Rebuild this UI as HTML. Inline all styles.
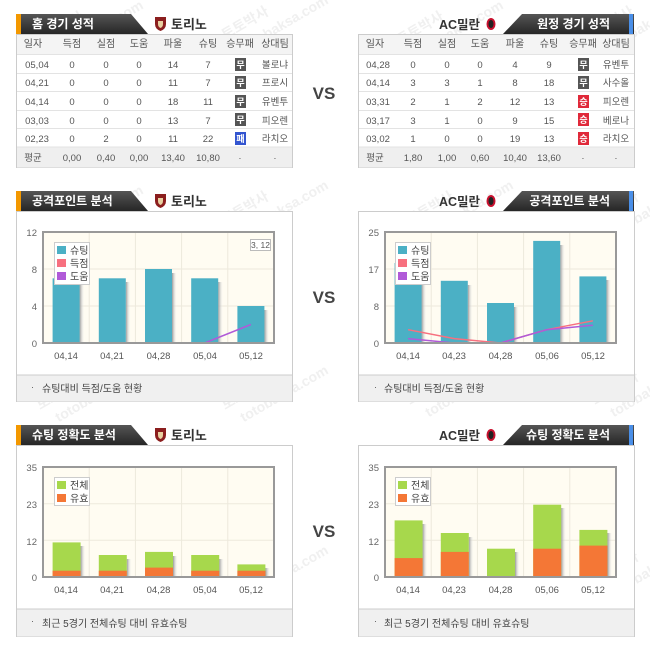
<!DOCTYPE html>
<html><head><meta charset="utf-8"><style>
html,body{margin:0;padding:0;background:#fff;}
svg{display:block;}
text{font-family:"Liberation Sans","Noto Sans CJK KR",sans-serif;}
</style></head><body>
<svg width="650" height="656" viewBox="0 0 650 656" xmlns="http://www.w3.org/2000/svg">
<defs>
<linearGradient id="tab" x1="0" y1="0" x2="0" y2="1"><stop offset="0" stop-color="#555"/><stop offset="1" stop-color="#262626"/></linearGradient>
<linearGradient id="sh" x1="0" y1="0" x2="1" y2="0"><stop offset="0" stop-color="#999"/><stop offset="1" stop-color="#fff" stop-opacity="0"/></linearGradient>
</defs>

<!-- watermarks -->
<g fill="#f0f0f0" font-size="14" font-weight="bold">
<g transform="translate(40,45) rotate(-30)"><text>토토박사</text><text x="10" y="20">totobaksa.com</text></g>
<g transform="translate(225,40) rotate(-30)"><text>토토박사</text><text x="10" y="20">totobaksa.com</text></g>
<g transform="translate(400,45) rotate(-30)"><text>토토박사</text><text x="10" y="20">totobaksa.com</text></g>
<g transform="translate(590,40) rotate(-30)"><text>토토박사</text><text x="10" y="20">totobaksa.com</text></g>
<g transform="translate(40,230) rotate(-30)"><text>토토박사</text><text x="10" y="20">totobaksa.com</text></g>
<g transform="translate(225,225) rotate(-30)"><text>토토박사</text><text x="10" y="20">totobaksa.com</text></g>
<g transform="translate(410,225) rotate(-30)"><text>토토박사</text><text x="10" y="20">totobaksa.com</text></g>
<g transform="translate(595,225) rotate(-30)"><text>토토박사</text><text x="10" y="20">totobaksa.com</text></g>
<g transform="translate(40,410) rotate(-30)"><text>토토박사</text><text x="10" y="20">totobaksa.com</text></g>
<g transform="translate(225,410) rotate(-30)"><text>토토박사</text><text x="10" y="20">totobaksa.com</text></g>
<g transform="translate(410,405) rotate(-30)"><text>토토박사</text><text x="10" y="20">totobaksa.com</text></g>
<g transform="translate(595,405) rotate(-30)"><text>토토박사</text><text x="10" y="20">totobaksa.com</text></g>
<g transform="translate(40,590) rotate(-30)"><text>토토박사</text><text x="10" y="20">totobaksa.com</text></g>
<g transform="translate(225,590) rotate(-30)"><text>토토박사</text><text x="10" y="20">totobaksa.com</text></g>
<g transform="translate(410,585) rotate(-30)"><text>토토박사</text><text x="10" y="20">totobaksa.com</text></g>
<g transform="translate(595,585) rotate(-30)"><text>토토박사</text><text x="10" y="20">totobaksa.com</text></g>
</g>

<!-- ============ TOP LEFT TABLE ============ -->
<polygon points="16,14 131,14 148,34 16,34" fill="url(#tab)"/>
<rect x="16" y="14" width="5" height="20" fill="#f39800"/>
<text x="32" y="28" font-size="12" font-weight="bold" fill="#fff">홈 경기 성적</text>
<path d="M155,17 h11 v7 q0,5 -5.5,7 q-5.5,-2 -5.5,-7z" fill="#8b1e1e"/>
<path d="M158,21 h5 v3 q0,3 -2.5,4 q-2.5,-1 -2.5,-4z" fill="#e8d0a0"/>
<text x="171" y="29" font-size="13" font-weight="bold" fill="#333">토리노</text>

<rect x="16.5" y="34.5" width="276" height="133" fill="#fff" stroke="#ccc"/>
<rect x="17" y="35" width="275" height="19" fill="#f4f4f4"/>
<rect x="17" y="147" width="275" height="20.5" fill="#efefef"/>
<g stroke="#e3e3e3"><line x1="17" y1="54.5" x2="292" y2="54.5"/><line x1="17" y1="73.5" x2="292" y2="73.5"/><line x1="17" y1="91.5" x2="292" y2="91.5"/><line x1="17" y1="110.5" x2="292" y2="110.5"/><line x1="17" y1="128.5" x2="292" y2="128.5"/><line x1="17" y1="147" x2="292" y2="147"/></g>
<g font-size="10" fill="#555" text-anchor="middle">
<text x="33" y="47">일자</text><text x="72" y="47">득점</text><text x="106" y="47">실점</text><text x="139" y="47">도움</text><text x="173" y="47">파울</text><text x="208" y="47">슈팅</text><text x="240" y="47">승무패</text><text x="275" y="47">상대팀</text>
</g>
<g font-size="9.5" fill="#555" text-anchor="middle">
<text x="37" y="68">05,04</text><text x="72" y="68">0</text><text x="106" y="68">0</text><text x="139" y="68">0</text><text x="173" y="68">14</text><text x="208" y="68">7</text><text x="275" y="68">볼로냐</text>
<text x="37" y="86">04,21</text><text x="72" y="86">0</text><text x="106" y="86">0</text><text x="139" y="86">0</text><text x="173" y="86">11</text><text x="208" y="86">7</text><text x="275" y="86">프로시</text>
<text x="37" y="105">04,14</text><text x="72" y="105">0</text><text x="106" y="105">0</text><text x="139" y="105">0</text><text x="173" y="105">18</text><text x="208" y="105">11</text><text x="275" y="105">유벤투</text>
<text x="37" y="124">03,03</text><text x="72" y="124">0</text><text x="106" y="124">0</text><text x="139" y="124">0</text><text x="173" y="124">13</text><text x="208" y="124">7</text><text x="275" y="124">피오렌</text>
<text x="37" y="142">02,23</text><text x="72" y="142">0</text><text x="106" y="142">2</text><text x="139" y="142">0</text><text x="173" y="142">11</text><text x="208" y="142">22</text><text x="275" y="142">라치오</text>
<text x="33" y="161">평균</text><text x="72" y="161">0,00</text><text x="106" y="161">0,40</text><text x="139" y="161">0,00</text><text x="173" y="161">13,40</text><text x="208" y="161">10,80</text><text x="240" y="161">·</text><text x="275" y="161">·</text>
</g>
<g font-size="9" fill="#fff" text-anchor="middle" font-weight="bold">
<rect x="235" y="58" width="11" height="13" fill="#555"/><text x="240.5" y="68">무</text>
<rect x="235" y="76" width="11" height="13" fill="#555"/><text x="240.5" y="86">무</text>
<rect x="235" y="95" width="11" height="13" fill="#555"/><text x="240.5" y="105">무</text>
<rect x="235" y="113" width="11" height="13" fill="#555"/><text x="240.5" y="123">무</text>
<rect x="235" y="132" width="11" height="13" fill="#3355d0"/><text x="240.5" y="142">패</text>
</g>

<!-- ============ TOP RIGHT TABLE ============ -->
<polygon points="522,14 634,14 634,34 503,34" fill="url(#tab)"/>
<rect x="629" y="14" width="4" height="20" fill="#4a8fe8"/>
<text x="610" y="28" font-size="12" font-weight="bold" fill="#fff" text-anchor="end">원정 경기 성적</text>
<text x="480" y="29" font-size="12.5" font-weight="bold" fill="#333" text-anchor="end">AC밀란</text>
<ellipse cx="491" cy="24" rx="4.5" ry="6" fill="#c8102e"/><ellipse cx="491" cy="24" rx="2.5" ry="4" fill="#222"/>

<rect x="358.5" y="34.5" width="276" height="133" fill="#fff" stroke="#ccc"/>
<rect x="359" y="35" width="275" height="19" fill="#f4f4f4"/>
<rect x="359" y="147" width="275" height="20.5" fill="#efefef"/>
<g stroke="#e3e3e3"><line x1="359" y1="54.5" x2="634" y2="54.5"/><line x1="359" y1="73.5" x2="634" y2="73.5"/><line x1="359" y1="91.5" x2="634" y2="91.5"/><line x1="359" y1="110.5" x2="634" y2="110.5"/><line x1="359" y1="128.5" x2="634" y2="128.5"/><line x1="359" y1="147" x2="634" y2="147"/></g>
<g font-size="10" fill="#555" text-anchor="middle">
<text x="375" y="47">일자</text><text x="413" y="47">득점</text><text x="447" y="47">실점</text><text x="480" y="47">도움</text><text x="515" y="47">파울</text><text x="549" y="47">슈팅</text><text x="583" y="47">승무패</text><text x="616" y="47">상대팀</text>
</g>
<g font-size="9.5" fill="#555" text-anchor="middle">
<text x="378" y="68">04,28</text><text x="413" y="68">0</text><text x="447" y="68">0</text><text x="480" y="68">0</text><text x="515" y="68">4</text><text x="549" y="68">9</text><text x="616" y="68">유벤투</text>
<text x="378" y="86">04,14</text><text x="413" y="86">3</text><text x="447" y="86">3</text><text x="480" y="86">1</text><text x="515" y="86">8</text><text x="549" y="86">18</text><text x="616" y="86">사수올</text>
<text x="378" y="105">03,31</text><text x="413" y="105">2</text><text x="447" y="105">1</text><text x="480" y="105">2</text><text x="515" y="105">12</text><text x="549" y="105">13</text><text x="616" y="105">피오렌</text>
<text x="378" y="124">03,17</text><text x="413" y="124">3</text><text x="447" y="124">1</text><text x="480" y="124">0</text><text x="515" y="124">9</text><text x="549" y="124">15</text><text x="616" y="124">베로나</text>
<text x="378" y="142">03,02</text><text x="413" y="142">1</text><text x="447" y="142">0</text><text x="480" y="142">0</text><text x="515" y="142">19</text><text x="549" y="142">13</text><text x="616" y="142">라치오</text>
<text x="375" y="161">평균</text><text x="413" y="161">1,80</text><text x="447" y="161">1,00</text><text x="480" y="161">0,60</text><text x="515" y="161">10,40</text><text x="549" y="161">13,60</text><text x="583" y="161">·</text><text x="616" y="161">·</text>
</g>
<g font-size="9" fill="#fff" text-anchor="middle" font-weight="bold">
<rect x="578" y="58" width="11" height="13" fill="#555"/><text x="583.5" y="68">무</text>
<rect x="578" y="76" width="11" height="13" fill="#555"/><text x="583.5" y="86">무</text>
<rect x="578" y="95" width="11" height="13" fill="#e0293a"/><text x="583.5" y="105">승</text>
<rect x="578" y="113" width="11" height="13" fill="#e0293a"/><text x="583.5" y="123">승</text>
<rect x="578" y="132" width="11" height="13" fill="#e0293a"/><text x="583.5" y="142">승</text>
</g>

<!-- VS -->
<g font-size="17" font-weight="bold" fill="#444" text-anchor="middle">
<text x="324" y="99">VS</text><text x="324" y="303">VS</text><text x="324" y="537">VS</text>
</g>

<!-- ============ MIDDLE LEFT ============ -->
<polygon points="16,191 131,191 148,211 16,211" fill="url(#tab)"/>
<rect x="16" y="191" width="5" height="20" fill="#f39800"/>
<text x="32" y="205" font-size="12" font-weight="bold" fill="#fff">공격포인트 분석</text>
<path d="M155,194 h11 v7 q0,5 -5.5,7 q-5.5,-2 -5.5,-7z" fill="#8b1e1e"/>
<path d="M158,198 h5 v3 q0,3 -2.5,4 q-2.5,-1 -2.5,-4z" fill="#e8d0a0"/>
<text x="171" y="206" font-size="13" font-weight="bold" fill="#333">토리노</text>
<rect x="16.5" y="211.5" width="276" height="190" fill="#fff" stroke="#ccc"/>
<rect x="17" y="375" width="275" height="26.5" fill="#f0f0f0"/>
<line x1="17" y1="375" x2="292" y2="375" stroke="#ccc"/>
<text x="31" y="390" font-size="9" fill="#555">·</text>
<text x="42" y="392" font-size="10" fill="#444">슈팅대비 득점/도움 현황</text>

<rect x="43" y="232" width="231" height="111" fill="#fffcf2"/>
<g stroke="#ede9dc"><line x1="43" y1="269" x2="274" y2="269"/><line x1="43" y1="306" x2="274" y2="306"/><line x1="89.2" y1="232" x2="89.2" y2="343"/><line x1="135.4" y1="232" x2="135.4" y2="343"/><line x1="181.6" y1="232" x2="181.6" y2="343"/><line x1="227.8" y1="232" x2="227.8" y2="343"/></g>
<g fill="url(#sh)"><rect x="79.6" y="282" width="5" height="61"/><rect x="125.8" y="282" width="5" height="61"/><rect x="172" y="273" width="5" height="70"/><rect x="218.2" y="282" width="5" height="61"/><rect x="264.4" y="310" width="5" height="33"/></g>
<g fill="#4bb0c5"><rect x="52.6" y="278.3" width="27" height="64.7"/><rect x="98.8" y="278.3" width="27" height="64.7"/><rect x="145" y="269" width="27" height="74"/><rect x="191.2" y="278.3" width="27" height="64.7"/><rect x="237.4" y="306" width="27" height="37"/></g>
<polyline points="66.1,343 112.3,343 158.5,343 204.7,343 250.9,343" fill="none" stroke="#f7707f" stroke-width="1.5"/>
<polyline points="66.1,343 112.3,343 158.5,343 204.7,343 250.9,324.5" fill="none" stroke="#b05ad8" stroke-width="1.5"/>
<rect x="43" y="232" width="231" height="111" fill="none" stroke="#999" stroke-width="2"/>
<rect x="250.5" y="239.5" width="20" height="11" fill="#fff" stroke="#bbb"/>
<text x="260.5" y="248" font-size="8.5" fill="#555" text-anchor="middle">3, 12</text>
<rect x="54.5" y="242.5" width="35" height="42" fill="#fff" stroke="#ccc"/>
<rect x="57" y="246" width="9" height="8" fill="#4bb0c5"/><rect x="57" y="259" width="9" height="8" fill="#f7707f"/><rect x="57" y="272" width="9" height="8" fill="#b05ad8"/>
<g font-size="10" fill="#444"><text x="70" y="254">슈팅</text><text x="70" y="267">득점</text><text x="70" y="280">도움</text></g>
<g font-size="9.5" fill="#666" text-anchor="end"><text x="37" y="236">12</text><text x="37" y="273">8</text><text x="37" y="310">4</text><text x="37" y="347">0</text></g>
<g font-size="9.5" fill="#555" text-anchor="middle"><text x="66" y="359">04,14</text><text x="112" y="359">04,21</text><text x="158.5" y="359">04,28</text><text x="205" y="359">05,04</text><text x="251" y="359">05,12</text></g>

<!-- ============ MIDDLE RIGHT ============ -->
<polygon points="522,191 634,191 634,211 503,211" fill="url(#tab)"/>
<rect x="629" y="191" width="4" height="20" fill="#4a8fe8"/>
<text x="610" y="205" font-size="12" font-weight="bold" fill="#fff" text-anchor="end">공격포인트 분석</text>
<text x="480" y="206" font-size="12.5" font-weight="bold" fill="#333" text-anchor="end">AC밀란</text>
<ellipse cx="491" cy="201" rx="4.5" ry="6" fill="#c8102e"/><ellipse cx="491" cy="201" rx="2.5" ry="4" fill="#222"/>
<rect x="358.5" y="211.5" width="276" height="190" fill="#fff" stroke="#ccc"/>
<rect x="359" y="375" width="275" height="26.5" fill="#f0f0f0"/>
<line x1="359" y1="375" x2="634" y2="375" stroke="#ccc"/>
<text x="374" y="390" font-size="9" fill="#555">·</text>
<text x="384" y="392" font-size="10" fill="#444">슈팅대비 득점/도움 현황</text>

<rect x="385" y="232" width="231" height="111" fill="#fffcf2"/>
<g stroke="#ede9dc"><line x1="385" y1="269" x2="616" y2="269"/><line x1="385" y1="306" x2="616" y2="306"/><line x1="431.2" y1="232" x2="431.2" y2="343"/><line x1="477.4" y1="232" x2="477.4" y2="343"/><line x1="523.6" y1="232" x2="523.6" y2="343"/><line x1="569.8" y1="232" x2="569.8" y2="343"/></g>
<g fill="url(#sh)"><rect x="421.6" y="267" width="5" height="76"/><rect x="467.8" y="285" width="5" height="58"/><rect x="514" y="307" width="5" height="36"/><rect x="560.2" y="245" width="5" height="98"/><rect x="606.4" y="280" width="5" height="63"/></g>
<g fill="#4bb0c5"><rect x="394.6" y="263" width="27" height="80"/><rect x="440.8" y="280.8" width="27" height="62.2"/><rect x="487" y="303" width="27" height="40"/><rect x="533.2" y="240.9" width="27" height="102.1"/><rect x="579.4" y="276.4" width="27" height="66.6"/></g>
<polyline points="408.1,329.7 454.3,338.6 500.5,343 546.7,329.7 592.9,320.8" fill="none" stroke="#f7707f" stroke-width="1.5"/>
<polyline points="408.1,338.6 454.3,343 500.5,343 546.7,329.7 592.9,325.2" fill="none" stroke="#b05ad8" stroke-width="1.5"/>
<rect x="385" y="232" width="231" height="111" fill="none" stroke="#999" stroke-width="2"/>
<rect x="395.5" y="242.5" width="35" height="42" fill="#fff" stroke="#ccc"/>
<rect x="398" y="246" width="9" height="8" fill="#4bb0c5"/><rect x="398" y="259" width="9" height="8" fill="#f7707f"/><rect x="398" y="272" width="9" height="8" fill="#b05ad8"/>
<g font-size="10" fill="#444"><text x="411" y="254">슈팅</text><text x="411" y="267">득점</text><text x="411" y="280">도움</text></g>
<g font-size="9.5" fill="#666" text-anchor="end"><text x="379" y="236">25</text><text x="379" y="273">17</text><text x="379" y="310">8</text><text x="379" y="347">0</text></g>
<g font-size="9.5" fill="#555" text-anchor="middle"><text x="408" y="359">04,14</text><text x="454" y="359">04,23</text><text x="500.5" y="359">04,28</text><text x="547" y="359">05,06</text><text x="593" y="359">05,12</text></g>

<!-- ============ BOTTOM LEFT ============ -->
<polygon points="16,425 131,425 148,445 16,445" fill="url(#tab)"/>
<rect x="16" y="425" width="5" height="20" fill="#f39800"/>
<text x="32" y="439" font-size="12" font-weight="bold" fill="#fff">슈팅 정확도 분석</text>
<path d="M155,428 h11 v7 q0,5 -5.5,7 q-5.5,-2 -5.5,-7z" fill="#8b1e1e"/>
<path d="M158,432 h5 v3 q0,3 -2.5,4 q-2.5,-1 -2.5,-4z" fill="#e8d0a0"/>
<text x="171" y="440" font-size="13" font-weight="bold" fill="#333">토리노</text>
<rect x="16.5" y="445.5" width="276" height="191" fill="#fff" stroke="#ccc"/>
<rect x="17" y="609" width="275" height="27.5" fill="#f0f0f0"/>
<line x1="17" y1="609" x2="292" y2="609" stroke="#ccc"/>
<text x="31" y="624" font-size="9" fill="#555">·</text>
<text x="42" y="627" font-size="10" fill="#444">최근 5경기 전체슈팅 대비 유효슈팅</text>

<rect x="43" y="467" width="231" height="110" fill="#fffcf2"/>
<g stroke="#ede9dc"><line x1="43" y1="503.7" x2="274" y2="503.7"/><line x1="43" y1="540.3" x2="274" y2="540.3"/><line x1="89.2" y1="467" x2="89.2" y2="577"/><line x1="135.4" y1="467" x2="135.4" y2="577"/><line x1="181.6" y1="467" x2="181.6" y2="577"/><line x1="227.8" y1="467" x2="227.8" y2="577"/></g>
<g fill="url(#sh)"><rect x="80.6" y="546" width="5" height="31"/><rect x="126.8" y="559" width="5" height="18"/><rect x="173" y="556" width="5" height="21"/><rect x="219.2" y="559" width="5" height="18"/><rect x="265.4" y="568" width="5" height="9"/></g>
<g fill="#a7d84c"><rect x="52.6" y="542.4" width="28" height="34.6"/><rect x="98.8" y="555" width="28" height="22"/><rect x="145" y="551.9" width="28" height="25.1"/><rect x="191.2" y="555" width="28" height="22"/><rect x="237.4" y="564.4" width="28" height="12.6"/></g>
<g fill="#f47736"><rect x="52.6" y="570.7" width="28" height="6.3"/><rect x="98.8" y="570.7" width="28" height="6.3"/><rect x="145" y="567.6" width="28" height="9.4"/><rect x="191.2" y="570.7" width="28" height="6.3"/><rect x="237.4" y="570.7" width="28" height="6.3"/></g>
<rect x="43" y="467" width="231" height="110" fill="none" stroke="#999" stroke-width="2"/>
<rect x="54.5" y="477.5" width="35" height="28" fill="#fff" stroke="#ccc"/>
<rect x="57" y="481" width="9" height="8" fill="#a7d84c"/><rect x="57" y="494" width="9" height="8" fill="#f47736"/>
<g font-size="10" fill="#444"><text x="70" y="489">전체</text><text x="70" y="502">유효</text></g>
<g font-size="9.5" fill="#666" text-anchor="end"><text x="37" y="471">35</text><text x="37" y="508">23</text><text x="37" y="545">12</text><text x="37" y="581">0</text></g>
<g font-size="9.5" fill="#555" text-anchor="middle"><text x="66" y="593">04,14</text><text x="112" y="593">04,21</text><text x="158.5" y="593">04,28</text><text x="205" y="593">05,04</text><text x="251" y="593">05,12</text></g>

<!-- ============ BOTTOM RIGHT ============ -->
<polygon points="522,425 634,425 634,445 503,445" fill="url(#tab)"/>
<rect x="629" y="425" width="4" height="20" fill="#4a8fe8"/>
<text x="610" y="439" font-size="12" font-weight="bold" fill="#fff" text-anchor="end">슈팅 정확도 분석</text>
<text x="480" y="440" font-size="12.5" font-weight="bold" fill="#333" text-anchor="end">AC밀란</text>
<ellipse cx="491" cy="435" rx="4.5" ry="6" fill="#c8102e"/><ellipse cx="491" cy="435" rx="2.5" ry="4" fill="#222"/>
<rect x="358.5" y="445.5" width="276" height="191" fill="#fff" stroke="#ccc"/>
<rect x="359" y="609" width="275" height="27.5" fill="#f0f0f0"/>
<line x1="359" y1="609" x2="634" y2="609" stroke="#ccc"/>
<text x="374" y="624" font-size="9" fill="#555">·</text>
<text x="384" y="627" font-size="10" fill="#444">최근 5경기 전체슈팅 대비 유효슈팅</text>

<rect x="385" y="467" width="231" height="110" fill="#fffcf2"/>
<g stroke="#ede9dc"><line x1="385" y1="503.7" x2="616" y2="503.7"/><line x1="385" y1="540.3" x2="616" y2="540.3"/><line x1="431.2" y1="467" x2="431.2" y2="577"/><line x1="477.4" y1="467" x2="477.4" y2="577"/><line x1="523.6" y1="467" x2="523.6" y2="577"/><line x1="569.8" y1="467" x2="569.8" y2="577"/></g>
<g fill="url(#sh)"><rect x="422.6" y="524" width="5" height="53"/><rect x="468.8" y="537" width="5" height="40"/><rect x="515" y="552" width="5" height="25"/><rect x="561.2" y="508" width="5" height="69"/><rect x="607.4" y="533" width="5" height="44"/></g>
<g fill="#a7d84c"><rect x="394.6" y="520.4" width="28" height="56.6"/><rect x="440.8" y="533" width="28" height="44"/><rect x="487" y="548.7" width="28" height="28.3"/><rect x="533.2" y="504.7" width="28" height="72.3"/><rect x="579.4" y="529.9" width="28" height="47.1"/></g>
<g fill="#f47736"><rect x="394.6" y="558.1" width="28" height="18.9"/><rect x="440.8" y="551.9" width="28" height="25.1"/><rect x="533.2" y="548.7" width="28" height="28.3"/><rect x="579.4" y="545.6" width="28" height="31.4"/></g>
<rect x="385" y="467" width="231" height="110" fill="none" stroke="#999" stroke-width="2"/>
<rect x="395.5" y="477.5" width="35" height="28" fill="#fff" stroke="#ccc"/>
<rect x="398" y="481" width="9" height="8" fill="#a7d84c"/><rect x="398" y="494" width="9" height="8" fill="#f47736"/>
<g font-size="10" fill="#444"><text x="411" y="489">전체</text><text x="411" y="502">유효</text></g>
<g font-size="9.5" fill="#666" text-anchor="end"><text x="379" y="471">35</text><text x="379" y="508">23</text><text x="379" y="545">12</text><text x="379" y="581">0</text></g>
<g font-size="9.5" fill="#555" text-anchor="middle"><text x="408" y="593">04,14</text><text x="454" y="593">04,23</text><text x="500.5" y="593">04,28</text><text x="547" y="593">05,06</text><text x="593" y="593">05,12</text></g>
</svg>
</body></html>
